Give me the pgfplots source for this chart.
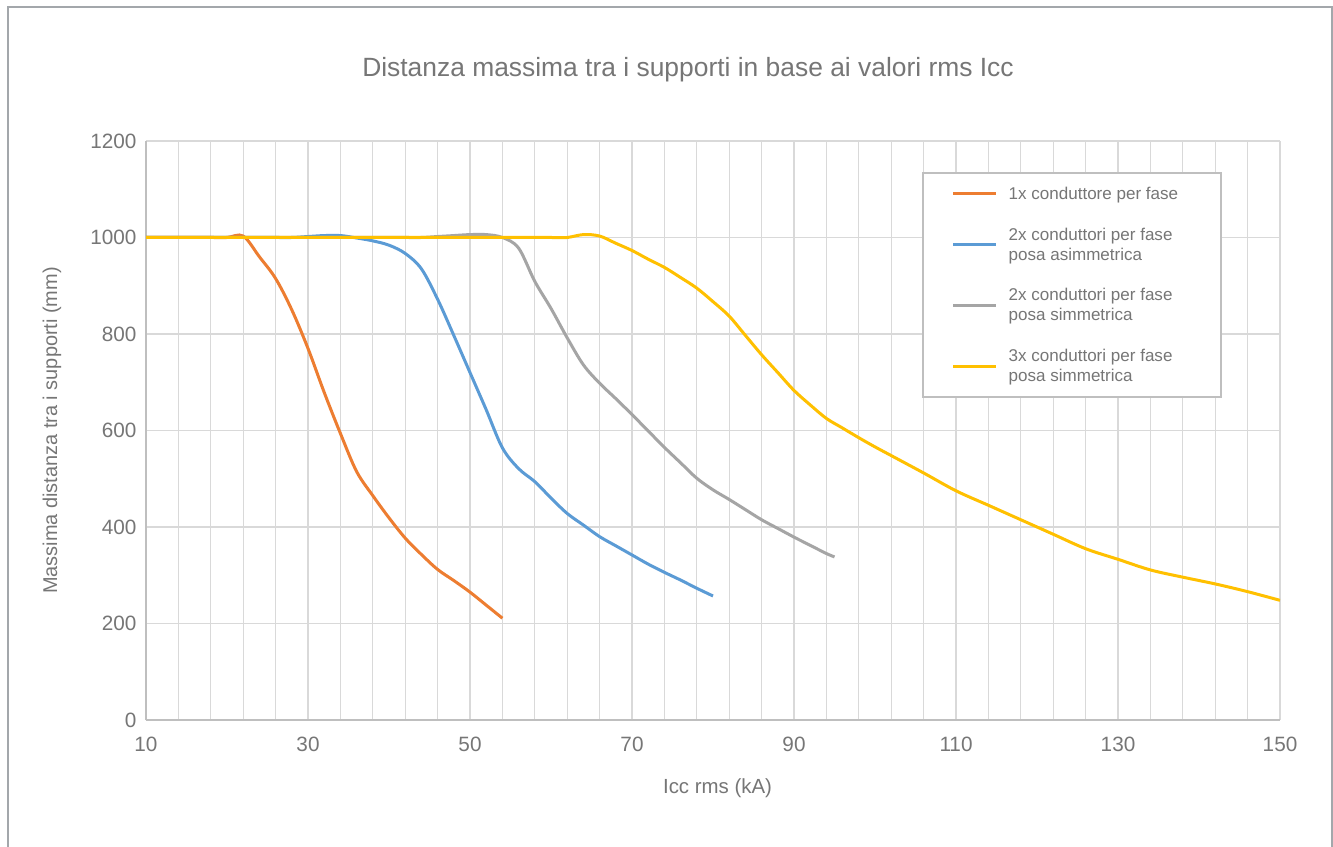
\documentclass[border=0pt]{standalone}
\usepackage{fontspec}
\setmainfont{Liberation Sans}
\usepackage{pgfplots}
\pgfplotsset{compat=1.18}
\definecolor{txt}{HTML}{767676}
\definecolor{gridc}{HTML}{D9D9D9}
\definecolor{axc}{HTML}{BFBFBF}
\definecolor{framec}{HTML}{A3A7AB}
\definecolor{cOr}{HTML}{ED7D31}
\definecolor{cBl}{HTML}{5B9BD5}
\definecolor{cGr}{HTML}{A5A5A5}
\definecolor{cYe}{HTML}{FFC000}
\begin{document}
\begin{tikzpicture}[x=1bp,y=1bp]
\useasboundingbox (0,0) rectangle (1333,846);
\fill[white] (0,0) rectangle (1333,846);
\draw[framec, line width=1.5bp] (8,-5) -- (8,839) -- (1332,839) -- (1332,-5);
\node[txt, font=\fontsize{26.5}{28}\selectfont] at (688,776) {Distanza massima tra i supporti in base ai valori rms Icc};
\begin{axis}[
  at={(146bp,126bp)}, anchor=south west,
  scale only axis, width=1134bp, height=579bp,
  xmin=10, xmax=150, ymin=0, ymax=1200,
  xtick={10,30,...,150}, minor xtick={10,14,...,150},
  ytick={0,200,...,1200},
  xmajorgrids=false, xminorgrids=true, ymajorgrids=true,
  major grid style={gridc, line width=1.3bp},
  minor grid style={gridc, line width=1.3bp},
  axis lines*=left,
  axis line style={axc, line width=1.5bp, -},
  major tick length=0pt, minor tick length=0pt,
  tick style={draw=none},
  ticklabel style={txt, font=\fontsize{20.8}{21}\selectfont},
  /pgf/number format/assume math mode=true,
  /pgf/number format/1000 sep={},
  xticklabel style={yshift=-14bp},
  yticklabel style={xshift=-6bp},
  xlabel={Icc rms (kA)},
  ylabel={Massima distanza tra i supporti (mm)},
  xlabel style={txt, font=\fontsize{20.5}{21}\selectfont, at={(axis description cs:0.504,-0.1174)}, anchor=center},
  ylabel style={txt, font=\fontsize{20}{21}\selectfont, at={(axis description cs:-0.0829,0.5)}, anchor=center},
  legend style={at={(axis description cs:0.684,0.9465)}, anchor=north west,
    draw=axc, line width=2bp, fill=white, text=txt,
    font=\fontsize{17.1}{20}\selectfont,
    nodes={align=left, inner sep=2bp},
    inner xsep=29bp, inner ysep=12bp,
    column sep=9bp,
    row sep=23bp},
  legend cell align=left,
  legend image code/.code={\draw[#1, line width=3bp] (0bp,0bp) -- (43bp,0bp);},
  every axis plot/.append style={line width=3bp, smooth, tension=0.55},
]
\addplot[cOr] coordinates {(10,1000) (14,1000) (18,1000) (20,1000) (22,1003) (24,960) (26,915) (28,850) (30,770) (32,679) (34,594) (36,515) (38,465) (40,419) (42,377) (44,343) (46,312) (48,289) (50,265) (52,238) (54,211)};
\addlegendentry{1x conduttore per fase\hspace*{12bp}}
\addplot[cBl] coordinates {(10,1000) (14,1000) (18,1000) (22,1000) (26,1000) (28,1000) (30,1002) (32,1004) (34,1004) (36,999) (38,993) (40,984) (42,967) (44,935) (46,872) (48,797) (50,720) (52,643) (54,564) (56,521) (58,494) (60,460) (62,428) (64,404) (66,380) (68,361) (70,342) (72,323) (74,306) (76,290) (78,273) (80,257)};
\addlegendentry{2x conduttori per fase\\posa asimmetrica}
\addplot[cGr] coordinates {(10,1000) (14,1000) (18,1000) (22,1000) (26,1000) (30,1000) (34,1000) (38,1000) (42,1000) (44,1000) (46,1002) (48,1004) (50,1006) (52,1006) (54,1000) (56,978) (58,909) (60,853) (62,792) (64,736) (66,698) (68,666) (70,633) (72,599) (74,565) (76,533) (78,501) (80,477) (82,457) (84,436) (86,415) (88,397) (90,379) (92,362) (94,345) (95,338)};
\addlegendentry{2x conduttori per fase\\posa simmetrica}
\addplot[cYe] coordinates {(10,1000) (14,1000) (18,1000) (22,1000) (26,1000) (30,1000) (34,1000) (38,1000) (42,1000) (46,1000) (50,1000) (54,1000) (58,1000) (60,1000) (62,1000) (64,1006) (66,1003) (68,988) (70,973) (72,955) (74,938) (76,917) (78,895) (80,867) (82,837) (84,797) (86,757) (88,720) (90,683) (92,653) (94,625) (96,605) (98,585) (100,566) (102,548) (106,512) (110,475) (114,445) (118,415) (122,385) (126,355) (130,333) (134,311) (138,296) (142,282) (146,266) (150,248)};
\addlegendentry{3x conduttori per fase\\posa simmetrica}
\end{axis}
\end{tikzpicture}
\end{document}
